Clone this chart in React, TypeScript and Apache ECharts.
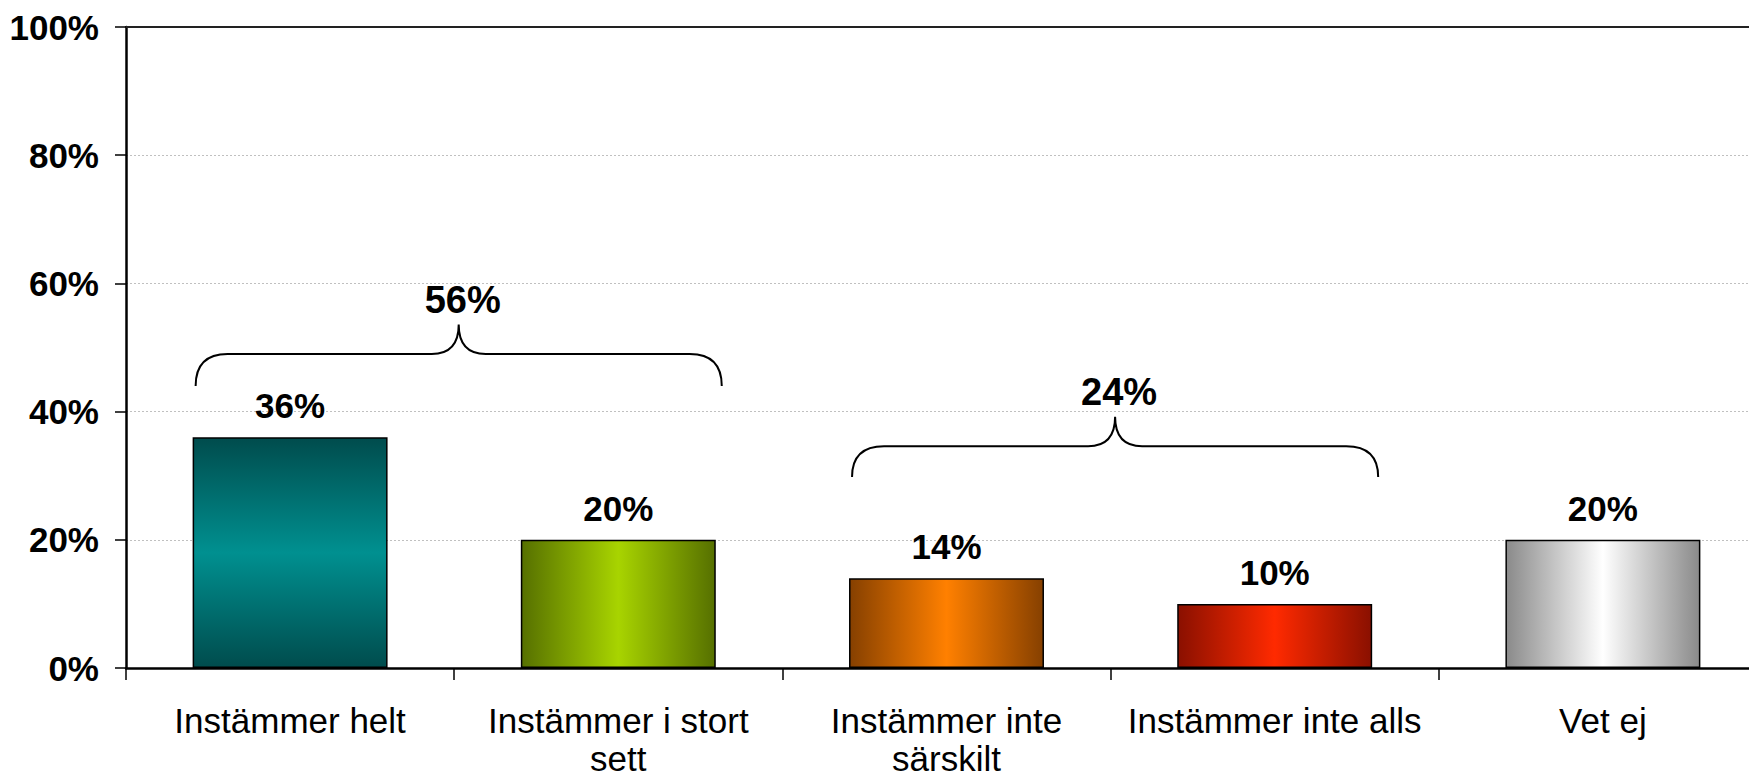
import React, { useEffect, useRef } from "react";
import * as echarts from "echarts";

const categories = [
  "Instämmer helt",
  "Instämmer i stort sett",
  "Instämmer inte särskilt",
  "Instämmer inte alls",
  "Vet ej",
];
// how the category labels wrap in the picture
const categoryLabels = [
  "Instämmer helt",
  "Instämmer i stort\nsett",
  "Instämmer inte\nsärskilt",
  "Instämmer inte alls",
  "Vet ej",
];
const values = [36, 20, 14, 10, 20];
const yTicks = [0, 20, 40, 60, 80, 100];

// gradient stops per bar: [edge, peak, edge], direction
const barEdgeColors = ["#004c4d", "#567000", "#864000", "#8a1000", "#8a8a8a"];
const barPeakColors = ["#009090", "#a8d400", "#ff8000", "#ff2a00", "#ffffff"];
const barVertical = [true, false, false, false, false];

// brace groups: first and last category index, bottom/top/tip levels in value units
const braceFrom = [0, 2];
const braceTo = [1, 3];
const braceBottom = [44, 29.8];
const braceTop = [49, 34.6];
const braceTip = [53.6, 39.2];
const braceLabelLevel = [57.4, 43.1];

const FONT = "'Liberation Sans', Arial, Helvetica, sans-serif";

let registered = false;
function registerBrace() {
  if (registered) return;
  registered = true;
  const Brace = (echarts.graphic as any).extendShape({
    type: "brace",
    shape: { x1: 0, x2: 0, xm: 0, yb: 0, yt: 0, ytip: 0, r: 30, r2: 27 },
    buildPath(ctx: any, s: any) {
      ctx.moveTo(s.x1, s.yb);
      ctx.quadraticCurveTo(s.x1, s.yt, s.x1 + s.r, s.yt);
      ctx.lineTo(s.xm - s.r2, s.yt);
      ctx.quadraticCurveTo(s.xm, s.yt, s.xm, s.ytip);
      ctx.quadraticCurveTo(s.xm, s.yt, s.xm + s.r2, s.yt);
      ctx.lineTo(s.x2 - s.r, s.yt);
      ctx.quadraticCurveTo(s.x2, s.yt, s.x2, s.yb);
    },
  });
  (echarts.graphic as any).registerShape("brace", Brace);
}

export default function App() {
  const ref = useRef<HTMLDivElement>(null);

  useEffect(() => {
    if (!ref.current) return;
    registerBrace();
    const chart = echarts.init(ref.current, undefined, { renderer: "svg" });

    const barData = values.map((v, i) => {
      const stops = [
        { offset: 0, color: barEdgeColors[i] },
        { offset: 0.5, color: barPeakColors[i] },
        { offset: 1, color: barEdgeColors[i] },
      ];
      const grad = barVertical[i]
        ? new echarts.graphic.LinearGradient(0, 0, 0, 1, stops)
        : new echarts.graphic.LinearGradient(0, 0, 1, 0, stops);
      return { value: v, itemStyle: { color: grad } };
    });

    const option: any = {
      animation: false,
      backgroundColor: "#ffffff",
      grid: {
        left: 126,
        top: 27,
        width: 1641,
        height: 641,
        containLabel: false,
        outerBoundsMode: "none",
      },
      xAxis: [
        {
          type: "category",
          data: categories,
          axisLine: { show: true, lineStyle: { color: "#000", width: 2.5 } },
          axisTick: { show: true, length: 12, alignWithLabel: false, lineStyle: { color: "#000", width: 1.5 } },
          axisLabel: {
            color: "#000",
            fontFamily: FONT,
            fontSize: 35,
            lineHeight: 38,
            margin: 33,
            interval: 0,
            formatter: (_v: string, i: number) => categoryLabels[i],
          },
          splitLine: { show: false },
        },
        {
          type: "category",
          data: categories,
          position: "top",
          axisLine: { show: true, lineStyle: { color: "#222", width: 2 } },
          axisTick: { show: false },
          axisLabel: { show: false },
        },
      ],
      yAxis: {
        type: "value",
        min: yTicks[0],
        max: yTicks[yTicks.length - 1],
        interval: 20,
        axisLine: { show: true, lineStyle: { color: "#000", width: 2.5 } },
        axisTick: { show: true, length: 11, lineStyle: { color: "#000", width: 1.5 } },
        axisLabel: {
          color: "#000",
          fontFamily: FONT,
          fontSize: 35,
          fontWeight: "bold",
          margin: 27,
          formatter: "{value}%",
        },
        splitLine: { show: true, lineStyle: { color: "#c0c0c0", type: [2, 2], width: 1 } },
      },
      series: [
        {
          type: "bar",
          data: barData,
          barWidth: "59.4%",
          itemStyle: { borderColor: "#000", borderWidth: 1.5 },
          label: {
            show: true,
            position: "top",
            distance: 14,
            formatter: "{c}%",
            color: "#000",
            fontFamily: FONT,
            fontSize: 35,
            fontWeight: "bold",
          },
        },
      ],
    };

    chart.setOption(option);

    const px = (idx: number, v: number) => chart.convertToPixel({ gridIndex: 0 }, [idx, v]) as number[];
    const bandW = px(1, 0)[0] - px(0, 0)[0];
    const halfBar = bandW * 0.297;
    const graphics: any[] = [];
    braceFrom.forEach((from, g) => {
      const to = braceTo[g];
      const xLeft = px(from, 0)[0] - halfBar + 3;
      const xRight = px(to, 0)[0] + halfBar + 6;
      const xm = (xLeft + xRight) / 2;
      let sum = 0;
      for (let k = from; k <= to; k++) sum += values[k];
      graphics.push({
        type: "brace",
        silent: true,
        shape: {
          x1: xLeft,
          x2: xRight,
          xm,
          yb: px(from, braceBottom[g])[1],
          yt: px(from, braceTop[g])[1],
          ytip: px(from, braceTip[g])[1],
          r: 32,
          r2: 27,
        },
        style: { stroke: "#000", lineWidth: 2, fill: null },
      });
      graphics.push({
        type: "text",
        silent: true,
        x: xm + 4,
        y: px(from, braceLabelLevel[g])[1],
        style: {
          text: sum + "%",
          fill: "#000",
          font: `bold 38px ${FONT}`,
          align: "center",
          verticalAlign: "middle",
        },
      });
    });
    chart.setOption({ graphic: graphics });

    return () => chart.dispose();
  }, []);

  return (
    <div
      ref={ref}
      style={{ position: "fixed", left: 0, top: 0, width: 1749, height: 777, background: "#fff" }}
    />
  );
}
